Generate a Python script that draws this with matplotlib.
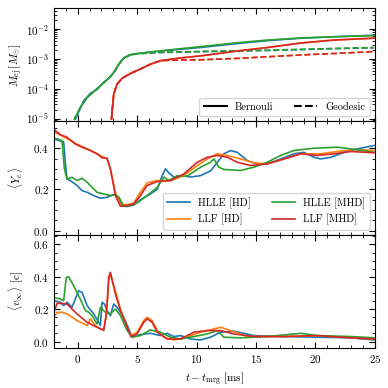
import numpy as np
import matplotlib
matplotlib.use('Agg')
import matplotlib.pyplot as plt
from matplotlib.ticker import MultipleLocator, LogLocator, NullFormatter

plt.rcParams.update({
    'font.family': 'serif',
    'font.serif': ['cmr10'],
    'mathtext.fontset': 'cm',
    'axes.formatter.use_mathtext': True,
    'font.size': 8,
    'xtick.direction': 'in',
    'ytick.direction': 'in',
    'xtick.top': True,
    'ytick.right': True,
    'xtick.minor.visible': True,
    'ytick.minor.visible': True,
    'xtick.major.size': 4,
    'ytick.major.size': 4,
    'xtick.minor.size': 2,
    'ytick.minor.size': 2,
})

# ---- ejected mass (log10 M_sun) ----
t_m_hlle_hd = [-0.2, 0.5, 1.07, 1.63, 2.19, 2.75, 3.17, 3.46, 3.88, 4.44, 5.28, 6.97, 10.34, 13.15, 15.96, 18.76, 21.57, 24.94]
m_hlle_hd = [-5.02, -4.41, -4.16, -4.02, -3.79, -3.6, -3.38, -3.18, -2.97, -2.86, -2.81, -2.74, -2.62, -2.50, -2.39, -2.31, -2.26, -2.21]
m_hlle_hd_geo = [-5.02, -4.41, -4.16, -4.02, -3.79, -3.6, -3.38, -3.18, -2.97, -2.86, -2.82, -2.79, -2.76, -2.74, -2.72, -2.69, -2.66, -2.63]
t_m_hlle_mhd = [-0.28, 0.22, 0.79, 1.49, 2.05, 2.61, 3.03, 3.46, 3.88, 4.44, 5.28, 6.97, 10.34, 13.15, 15.96, 18.76, 21.57, 24.94]
m_hlle_mhd = [-5.02, -4.63, -4.30, -4.05, -3.85, -3.65, -3.46, -3.18, -2.97, -2.86, -2.81, -2.73, -2.59, -2.47, -2.37, -2.30, -2.26, -2.22]
m_hlle_mhd_geo = [-5.02, -4.63, -4.30, -4.05, -3.85, -3.65, -3.46, -3.18, -2.97, -2.86, -2.82, -2.78, -2.75, -2.73, -2.71, -2.68, -2.65, -2.62]
t_m_llf = [2.84, 3.03, 3.31, 3.74, 4.44, 5.28, 6.12, 6.97, 8.65, 10.34, 13.15, 15.96, 18.76, 21.57, 24.94]
m_llf_hd = [-5.02, -4.18, -3.85, -3.65, -3.49, -3.34, -3.18, -3.06, -2.97, -2.90, -2.75, -2.62, -2.47, -2.37, -2.30]
m_llf_hd_geo = [-5.02, -4.18, -3.85, -3.65, -3.49, -3.34, -3.18, -3.06, -3.04, -3.03, -2.99, -2.93, -2.87, -2.82, -2.75]
m_llf_mhd = [-5.02, -4.18, -3.85, -3.65, -3.49, -3.34, -3.18, -3.06, -2.97, -2.90, -2.75, -2.62, -2.47, -2.37, -2.31]
m_llf_mhd_geo = [-5.02, -4.18, -3.85, -3.65, -3.49, -3.34, -3.18, -3.06, -3.04, -3.03, -2.99, -2.93, -2.87, -2.82, -2.76]

# ---- electron fraction ----
t_ye_hlle_hd = [-2.0, -1.18, -1.04, -0.9, -0.62, -0.06, 0.37, 0.79, 1.35, 1.91, 2.47, 3.03, 3.46, 3.74, 4.16, 4.72, 5.28, 6.12, 6.69, 7.11, 7.39, 7.67, 8.09, 8.79, 9.49, 10.34, 11.18, 11.74, 12.3, 12.87, 13.43, 14.27, 15.11, 15.96, 17.08, 18.2, 19.04, 19.89, 20.45, 21.29, 22.42, 23.54, 24.94]
ye_hlle_hd = [0.445, 0.43, 0.33, 0.25, 0.243, 0.219, 0.194, 0.186, 0.17, 0.157, 0.162, 0.175, 0.16, 0.12, 0.117, 0.125, 0.15, 0.178, 0.2, 0.267, 0.3, 0.28, 0.26, 0.267, 0.26, 0.267, 0.29, 0.33, 0.373, 0.389, 0.38, 0.34, 0.324, 0.324, 0.348, 0.373, 0.38, 0.356, 0.348, 0.356, 0.38, 0.397, 0.413]
t_ye_hlle_mhd = [-2.0, -1.32, -1.12, -0.9, -0.48, -0.06, 0.37, 0.79, 1.21, 1.63, 2.19, 2.75, 3.17, 3.46, 3.88, 4.44, 5.0, 5.84, 6.69, 7.25, 7.67, 8.37, 9.21, 10.34, 11.18, 11.46, 11.88, 12.3, 13.71, 14.83, 15.96, 17.08, 18.2, 19.89, 21.85, 22.98, 24.94]
ye_hlle_mhd = [0.449, 0.437, 0.30, 0.25, 0.259, 0.243, 0.254, 0.235, 0.21, 0.186, 0.178, 0.17, 0.175, 0.162, 0.118, 0.122, 0.134, 0.17, 0.21, 0.26, 0.243, 0.267, 0.264, 0.308, 0.332, 0.348, 0.308, 0.297, 0.292, 0.308, 0.332, 0.365, 0.389, 0.40, 0.405, 0.397, 0.38]
t_ye_llf_hd = [-2.0, -1.46, -0.9, -0.06, 0.79, 1.63, 2.19, 2.47, 2.75, 3.17, 3.6, 4.16, 4.72, 5.28, 5.84, 6.69, 7.81, 8.93, 10.06, 10.9, 11.74, 12.58, 13.71, 14.83, 15.96, 17.36, 18.76, 20.45, 21.85, 23.26, 24.94]
ye_llf_hd = [0.478, 0.465, 0.446, 0.42, 0.397, 0.373, 0.356, 0.348, 0.30, 0.186, 0.13, 0.125, 0.134, 0.186, 0.232, 0.243, 0.243, 0.267, 0.316, 0.348, 0.373, 0.365, 0.348, 0.329, 0.324, 0.348, 0.373, 0.373, 0.384, 0.394, 0.389]
t_ye_llf_mhd = [-2.0, -1.46, -0.9, -0.2, 0.37, 1.07, 1.63, 2.05, 2.47, 2.75, 3.17, 3.6, 4.16, 4.72, 5.28, 5.84, 6.69, 7.81, 8.93, 10.06, 10.9, 11.74, 12.58, 13.43, 14.55, 15.96, 17.36, 18.76, 20.17, 21.57, 22.98, 24.94]
ye_llf_mhd = [0.491, 0.465, 0.454, 0.42, 0.405, 0.389, 0.373, 0.353, 0.352, 0.30, 0.17, 0.118, 0.122, 0.13, 0.17, 0.219, 0.238, 0.243, 0.275, 0.332, 0.356, 0.365, 0.356, 0.332, 0.316, 0.324, 0.348, 0.373, 0.365, 0.373, 0.384, 0.378]

# ---- asymptotic velocity ----
t_v_hlle_hd = [-2.0, -1.46, -1.18, -0.9, -0.48, 0.08, 0.37, 0.79, 1.35, 1.77, 1.91, 2.05, 2.25, 2.47, 2.75, 3.03, 3.31, 3.88, 4.3, 4.58, 5.28, 6.12, 6.97, 7.53, 8.09, 8.65, 9.49, 10.34, 11.18, 12.02, 13.15, 14.83, 17.36, 20.17, 22.98, 24.94]
v_hlle_hd = [0.253, 0.243, 0.222, 0.243, 0.212, 0.314, 0.304, 0.222, 0.171, 0.119, 0.099, 0.243, 0.232, 0.191, 0.16, 0.232, 0.212, 0.15, 0.078, 0.027, 0.043, 0.051, 0.037, 0.051, 0.031, 0.037, 0.016, 0.01, 0.027, 0.058, 0.064, 0.037, 0.031, 0.027, 0.023, 0.01]
t_v_hlle_mhd = [-2.0, -1.46, -1.18, -0.96, -0.76, -0.34, 0.22, 0.65, 0.93, 1.21, 1.63, 1.91, 2.33, 2.75, 3.17, 3.6, 4.16, 4.58, 5.28, 6.12, 6.97, 7.81, 8.65, 9.78, 10.9, 11.74, 12.3, 13.71, 15.96, 18.76, 20.17, 22.98, 24.94]
v_hlle_mhd = [0.273, 0.263, 0.253, 0.397, 0.40, 0.345, 0.263, 0.191, 0.181, 0.16, 0.109, 0.212, 0.181, 0.171, 0.201, 0.16, 0.068, 0.027, 0.037, 0.072, 0.058, 0.027, 0.016, 0.031, 0.047, 0.068, 0.027, 0.023, 0.031, 0.051, 0.037, 0.031, 0.023]
t_v_llf_hd = [-2.0, -1.74, -1.32, -0.9, -0.06, 0.79, 1.07, 1.49, 1.91, 2.19, 2.42, 2.61, 2.75, 3.17, 3.6, 4.16, 4.49, 5.0, 5.56, 5.84, 6.26, 6.69, 7.25, 8.09, 8.93, 10.34, 11.46, 12.02, 12.87, 14.27, 17.36, 20.17, 22.98, 24.94]
v_llf_hd = [0.15, 0.181, 0.181, 0.171, 0.13, 0.099, 0.14, 0.099, 0.078, 0.068, 0.171, 0.376, 0.417, 0.314, 0.201, 0.088, 0.037, 0.058, 0.13, 0.15, 0.13, 0.068, 0.027, 0.01, 0.021, 0.058, 0.078, 0.088, 0.068, 0.031, 0.031, 0.037, 0.023, 0.016]
t_v_llf_mhd = [-2.0, -1.74, -1.32, -0.9, -0.06, 0.79, 1.63, 2.19, 2.42, 2.61, 2.75, 3.17, 3.6, 4.16, 4.49, 5.0, 5.56, 5.84, 6.26, 6.69, 7.53, 8.65, 9.78, 10.9, 12.02, 13.15, 14.83, 17.36, 20.17, 22.98, 24.94]
v_llf_mhd = [0.181, 0.236, 0.236, 0.232, 0.171, 0.119, 0.088, 0.072, 0.171, 0.397, 0.428, 0.294, 0.191, 0.088, 0.031, 0.047, 0.119, 0.14, 0.119, 0.058, 0.016, 0.016, 0.058, 0.068, 0.068, 0.047, 0.031, 0.031, 0.037, 0.023, 0.016]

fig, axes = plt.subplots(3, 1, figsize=(3.88, 3.88), dpi=100, sharex=True)
fig.subplots_adjust(left=0.139, right=0.966, top=0.979, bottom=0.103, hspace=0)
ax1, ax2, ax3 = axes
lw = 1.2

# top panel
ax1.plot(t_m_hlle_hd, 10**np.array(m_hlle_hd), color='C0', lw=lw)
ax1.plot(t_m_hlle_hd, 10**np.array(m_hlle_hd_geo), color='C0', lw=lw, ls='--')
ax1.plot(t_m_llf, 10**np.array(m_llf_hd), color='C1', lw=lw)
ax1.plot(t_m_llf, 10**np.array(m_llf_hd_geo), color='C1', lw=lw, ls='--')
ax1.plot(t_m_hlle_mhd, 10**np.array(m_hlle_mhd), color='C2', lw=lw)
ax1.plot(t_m_hlle_mhd, 10**np.array(m_hlle_mhd_geo), color='C2', lw=lw, ls='--')
ax1.plot(t_m_llf, 10**np.array(m_llf_mhd), color='C3', lw=lw)
ax1.plot(t_m_llf, 10**np.array(m_llf_mhd_geo), color='C3', lw=lw, ls='--')
ax1.plot([], [], color='k', lw=1.5, label='Bernouli')
ax1.plot([], [], color='k', lw=1.5, ls='--', label='Geodesic')
ax1.set_yscale('log')
ax1.set_ylim(8e-6, 5e-2)
ax1.yaxis.set_major_locator(LogLocator(base=10, numticks=10))
ax1.yaxis.set_minor_locator(LogLocator(base=10, subs=np.arange(2, 10) * 0.1, numticks=20))
ax1.yaxis.set_minor_formatter(NullFormatter())
ax1.set_ylabel(r'$M_{\rm ej}\,[M_{\odot}]$')
ax1.legend(loc='lower right', ncol=2, fontsize=7.5, handlelength=2.2, columnspacing=2.0)

# middle panel
ax2.plot(t_ye_hlle_hd, ye_hlle_hd, color='C0', lw=lw, label='HLLE [HD]')
ax2.plot(t_ye_llf_hd, ye_llf_hd, color='C1', lw=lw, label='LLF [HD]')
ax2.plot(t_ye_hlle_mhd, ye_hlle_mhd, color='C2', lw=lw, label='HLLE [MHD]')
ax2.plot(t_ye_llf_mhd, ye_llf_mhd, color='C3', lw=lw, label='LLF [MHD]')
ax2.set_ylim(-0.02, 0.53)
ax2.yaxis.set_major_locator(MultipleLocator(0.2))
ax2.yaxis.set_minor_locator(MultipleLocator(0.05))
ax2.set_ylabel(r'$\langle Y_e \rangle$')
ax2.legend(loc='lower right', ncol=2, fontsize=7.5, handlelength=2.2)

# bottom panel
ax3.plot(t_v_hlle_hd, v_hlle_hd, color='C0', lw=lw)
ax3.plot(t_v_llf_hd, v_llf_hd, color='C1', lw=lw)
ax3.plot(t_v_hlle_mhd, v_hlle_mhd, color='C2', lw=lw)
ax3.plot(t_v_llf_mhd, v_llf_mhd, color='C3', lw=lw)
ax3.set_ylim(-0.04, 0.66)
ax3.yaxis.set_major_locator(MultipleLocator(0.2))
ax3.yaxis.set_minor_locator(MultipleLocator(0.05))
ax3.set_ylabel(r'$\langle v_{\infty} \rangle$ [c]')

ax3.set_xlim(-2, 25)
ax3.xaxis.set_major_locator(MultipleLocator(5))
ax3.xaxis.set_minor_locator(MultipleLocator(1))
ax3.set_xlabel(r'$t - t_{\rm mrg}$ [ms]')

for ax in axes:
    ax.yaxis.set_label_coords(-0.09, 0.5)

fig.savefig('out.png', dpi=100)
